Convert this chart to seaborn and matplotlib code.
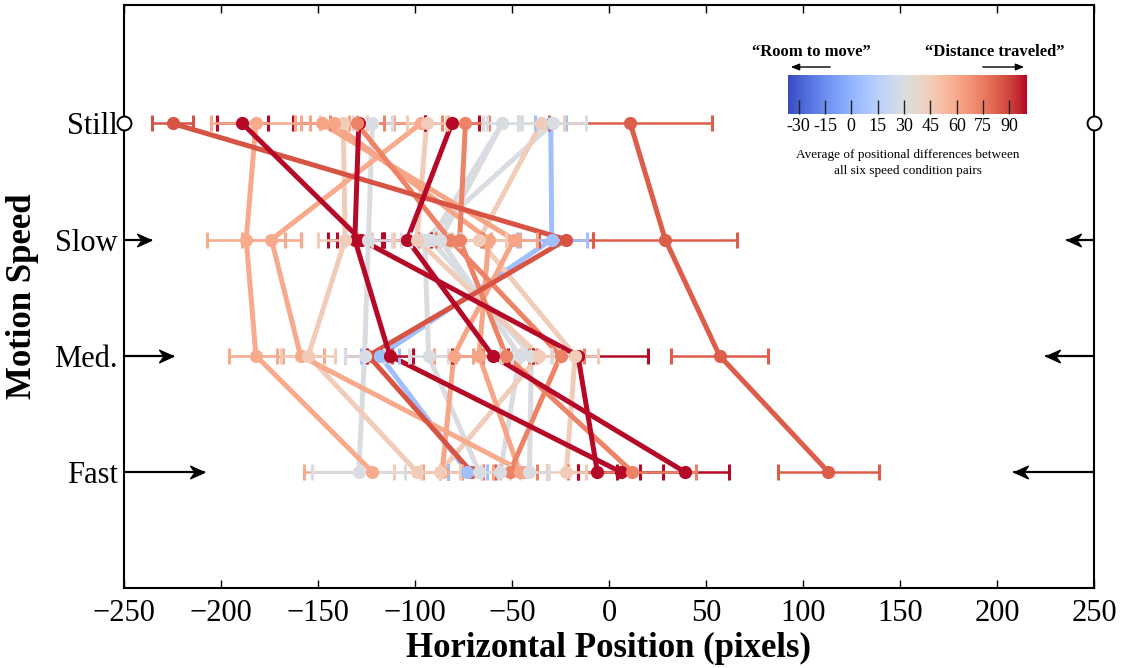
import numpy as np
import pandas as pd
import matplotlib
matplotlib.use("Agg")
import matplotlib.pyplot as plt
from matplotlib.path import Path
import seaborn as sns

# Speed conditions (top to bottom)
speeds = ["Still", "Slow", "Med.", "Fast"]

# Mean horizontal position per participant for Still, Slow, Med., Fast
pos_A = [-225, -22, -124, -71]
pos_B = [-30, -29.5, -118, -73]
pos_C = [-129, -131, -113, 6]
pos_D = [-189, -128, -16, -6]
pos_E = [-81, -104, -60, 39]
pos_F = [-182, -187, -182, -122]
pos_G = [-97, -174, -159, -44]
pos_H = [-137, -136, -155, -99]
pos_I = [-122, -124, -126, -129]
pos_J = [11, 29, 57, 113]
pos_K = [-130, -82, -25, -51]
pos_L = [-74, -77, -53, 12]
pos_M = [-142, -62, -67, -46]
pos_N = [-148, -49, -80, -86]
pos_P = [-35, -67, -17.5, -22]
pos_Q = [-29, -95, -93, -67]
pos_R = [-55, -87, -46, -56]
pos_S = [-55, -92, -40, -41]
pos_X = [-94, -99, -36, -87]

# Half-width of the error bar at each speed
err_A = [10.5, 14, 12, 12]
err_B = [8, 18, 10, 10]
err_C = [34, 14, 12, 22]
err_D = [13, 12, 36, 10]
err_E = [14, 12, 21, 23]
err_F = [23, 20, 14, 35]
err_G = [14, 15, 12, 12]
err_H = [12, 14, 14, 12]
err_I = [10, 12, 10, 24]
err_J = [42, 37, 25, 26]
err_K = [14, 16, 12, 14]
err_L = [12, 12, 12, 33]
err_M = [12, 16, 12, 14]
err_N = [14, 12, 10, 10]
err_P = [12, 14, 12, 10]
err_Q = [17, 12, 10, 10]
err_R = [8, 10, 10, 10]
err_S = [10, 10, 10, 10]
err_X = [10, 12, 10, 10]

# Average positional difference across the six speed-condition pairs
avg_diff = [86, 5, 99, 99, 99, 60, 60, 45, 30, 84, 73, 73, 62, 62, 45, 30, 30, 30, 45]

participants = list("ABCDEFGHIJKLMNPQRSX")
positions = [pos_A, pos_B, pos_C, pos_D, pos_E, pos_F, pos_G, pos_H, pos_I, pos_J,
             pos_K, pos_L, pos_M, pos_N, pos_P, pos_Q, pos_R, pos_S, pos_X]
errors = [err_A, err_B, err_C, err_D, err_E, err_F, err_G, err_H, err_I, err_J,
          err_K, err_L, err_M, err_N, err_P, err_Q, err_R, err_S, err_X]

rows = []
for pid, p, e, d in zip(participants, positions, errors, avg_diff):
    for k, s in enumerate(speeds):
        rows.append({"pid": pid, "speed": k, "pos": p[k], "err": e[k], "diff": d})
df = pd.DataFrame(rows)

vmin, vmax = -36, 100
cmap = plt.get_cmap("coolwarm")
norm = plt.Normalize(vmin, vmax)

sns.set_theme(style="ticks")
plt.rcParams["font.family"] = ["Liberation Serif", "DejaVu Serif"]
for key in ("text.color", "axes.labelcolor", "xtick.color", "ytick.color", "axes.edgecolor"):
    plt.rcParams[key] = "black"

fig = plt.figure(figsize=(11.24, 6.68), dpi=100)
ax = fig.add_axes([124 / 1124, 1 - 588 / 668, 970 / 1124, 583 / 668])

sns.lineplot(data=df, x="pos", y="speed", hue="diff", units="pid", estimator=None,
             sort=False, orient="y", palette="coolwarm", hue_norm=(vmin, vmax),
             linewidth=3.6, legend=False, ax=ax, zorder=2)

for pid, grp in df.groupby("pid", sort=False):
    col = cmap(norm(grp["diff"].iloc[0]))
    ax.errorbar(grp["pos"], grp["speed"], xerr=grp["err"], fmt="o", color=col,
                markersize=8.5, elinewidth=1.8, capsize=5.5, capthick=2.2, zorder=3)

ax.set_xlim(-250, 250)
ax.set_ylim(4.0, -1.02)
ax.set_xticks(np.arange(-250, 251, 50))
ax.set_yticks(range(len(speeds)))
ax.set_yticklabels(speeds)
ax.tick_params(axis="x", direction="in", top=True, length=6, width=1, labelsize=22, pad=8)
ax.tick_params(axis="y", length=0, labelsize=22, pad=4.5)
for sp in ax.spines.values():
    sp.set_linewidth(1.5)
    sp.set_color("black")
ax.set_xlabel("Horizontal Position (pixels)", fontsize=25, fontweight="bold", labelpad=3)
ax.set_ylabel("Motion Speed", fontsize=25, fontweight="bold", labelpad=11)

# Speed symbols on both edges: open circle for Still, arrows growing with speed
head = Path([(0, 0), (-1.0, 0.45), (-0.68, 0), (-1.0, -0.45), (0, 0)],
            [Path.MOVETO, Path.LINETO, Path.LINETO, Path.LINETO, Path.CLOSEPOLY])
head_l = Path(-head.vertices, head.codes)
arrow_len = [14, 25, 41]
for k, L in zip([1, 2, 3], arrow_len):
    ax.plot([-250, -250 + L], [k, k], color="black", lw=1.6, clip_on=False, zorder=5)
    ax.plot([-250 + L], [k], marker=head, markersize=20, color="black", clip_on=False, zorder=5)
    ax.plot([250, 250 - L], [k, k], color="black", lw=1.6, clip_on=False, zorder=5)
    ax.plot([250 - L], [k], marker=head_l, markersize=20, color="black", clip_on=False, zorder=5)
for xe in (-250, 250):
    ax.plot([xe], [0], marker="o", markersize=10, markerfacecolor="white",
            markeredgecolor="black", markeredgewidth=1.4, clip_on=False, zorder=6)

# Colour scale
cax = fig.add_axes([788 / 1124, 1 - 114 / 668, 239 / 1124, 39 / 668])
grad = np.linspace(vmin, vmax, 512).reshape(1, -1)
cax.imshow(grad, aspect="auto", cmap=cmap, norm=norm, extent=[vmin, vmax, 0, 1])
cax.set_xlim(vmin, vmax)
cax.set_yticks([])
cb_ticks = [-30, -15, 0, 15, 30, 45, 60, 75, 90]
cax.set_xticks(cb_ticks)
cax.set_xticklabels([str(t) for t in cb_ticks])
cax.tick_params(axis="x", direction="in", length=10, width=1, labelsize=13, pad=3, color="#222222")
for sp in cax.spines.values():
    sp.set_visible(False)

fig.text(811 / 1124, 1 - 52 / 668, "\u201cRoom to move\u201d", ha="center", va="center",
         fontsize=12, fontweight="bold")
fig.text(995 / 1124, 1 - 52 / 668, "\u201cDistance traveled\u201d", ha="center", va="center",
         fontsize=12, fontweight="bold")
fig.patches.append(matplotlib.patches.FancyArrowPatch(
    (833 / 1124, 1 - 67 / 668), (788 / 1124, 1 - 67 / 668), transform=fig.transFigure,
    arrowstyle="-|>,head_length=5,head_width=2", color="black", lw=1))
fig.patches.append(matplotlib.patches.FancyArrowPatch(
    (980 / 1124, 1 - 67 / 668), (1027 / 1124, 1 - 67 / 668), transform=fig.transFigure,
    arrowstyle="-|>,head_length=5,head_width=2", color="black", lw=1))
fig.text(908 / 1124, 1 - 163 / 668,
         "Average of positional differences between\nall six speed condition pairs",
         ha="center", va="center", fontsize=9.5, linespacing=1.5)

fig.savefig("out.png", dpi=100)
